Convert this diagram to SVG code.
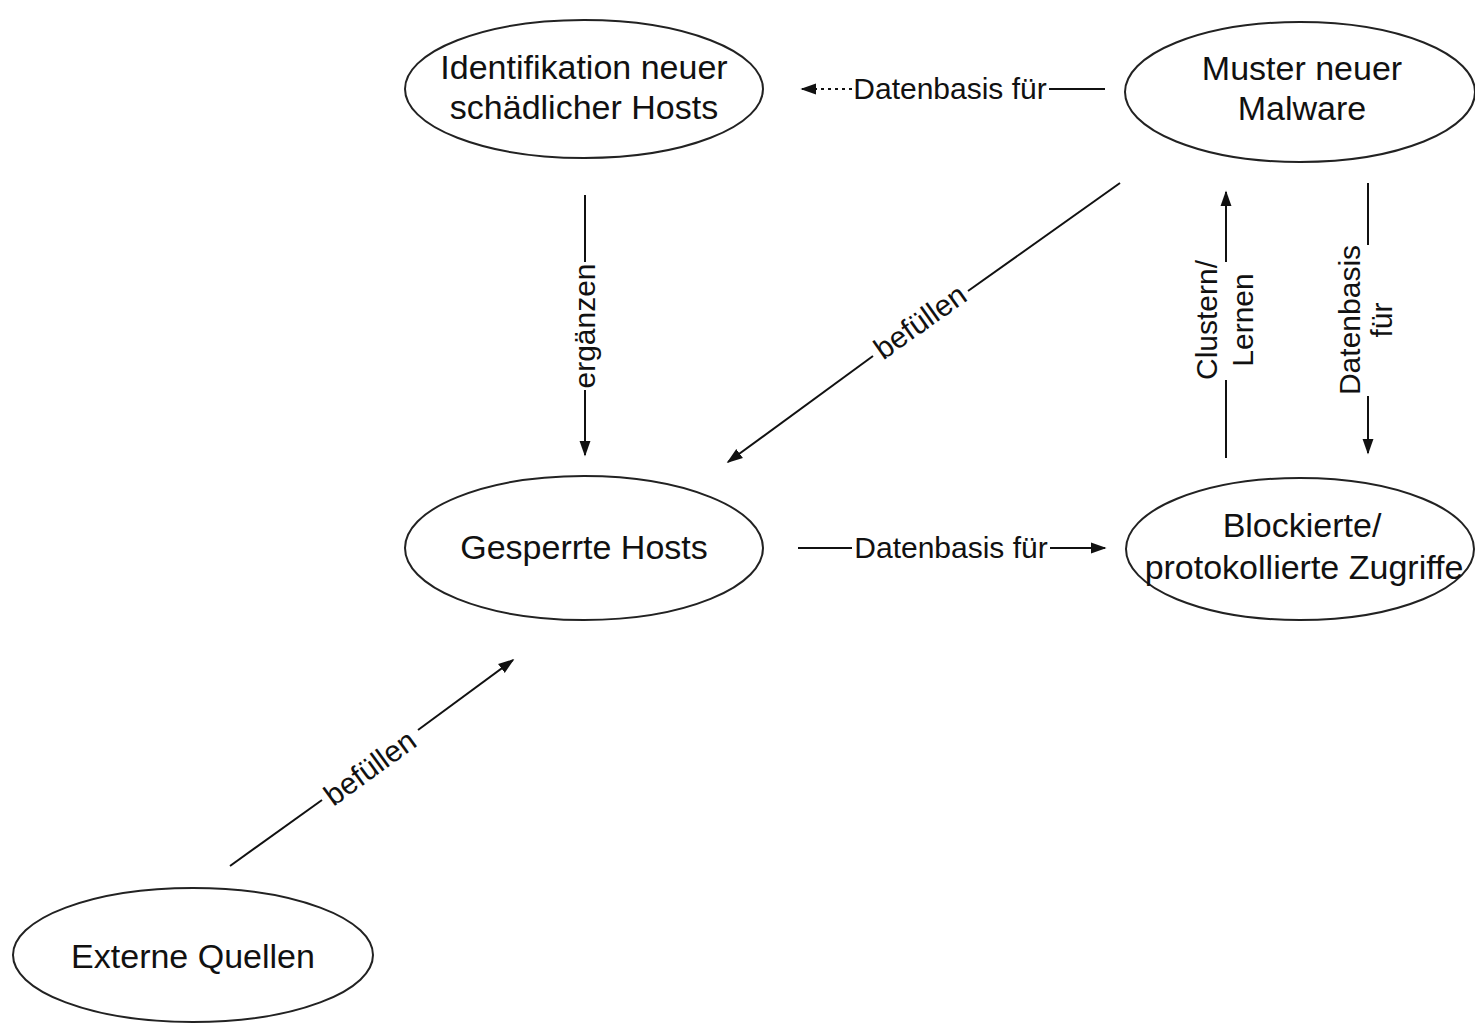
<svg xmlns="http://www.w3.org/2000/svg" width="1475" height="1023" viewBox="0 0 1475 1023">
<style>
.n{fill:#fff;stroke:#222;stroke-width:2}
.t{font-family:"Liberation Sans",Arial,sans-serif;font-size:34px;fill:#111;text-anchor:middle}
.l{font-family:"Liberation Sans",Arial,sans-serif;font-size:30px;fill:#111;text-anchor:middle}
.c{stroke:#111;stroke-width:2;fill:none}
</style>
<defs>
<marker id="ah" viewBox="0 0 10 10" refX="9" refY="5" markerWidth="16" markerHeight="16" markerUnits="userSpaceOnUse" orient="auto"><path d="M0,1.5 L10,5 L0,8.5 Z" fill="#111"/></marker>
</defs>
<rect width="1475" height="1023" fill="#fff"/>
<g id="connectors">
  <g id="e1">
    <line class="c" x1="1105" y1="89" x2="1049" y2="89"/>
    <line class="c" x1="852" y1="89" x2="802" y2="89" stroke-dasharray="3,4" marker-end="url(#ah)"/>
    <text class="l" x="950" y="99">Datenbasis für</text>
  </g>
  <g id="e2">
    <line class="c" x1="585" y1="195" x2="585" y2="262"/>
    <line class="c" x1="585" y1="390" x2="585" y2="455" marker-end="url(#ah)"/>
    <text class="l" transform="translate(595,326) rotate(-90)">ergänzen</text>
  </g>
  <g id="e3">
    <line class="c" x1="1120" y1="183" x2="968" y2="291"/>
    <line class="c" x1="873" y1="356" x2="728" y2="462" marker-end="url(#ah)"/>
    <text class="l" transform="translate(926,330) rotate(-35.4)">befüllen</text>
  </g>
  <g id="e4">
    <line class="c" x1="1226" y1="458" x2="1226" y2="380"/>
    <line class="c" x1="1226" y1="262" x2="1226" y2="192" marker-end="url(#ah)"/>
    <text class="l" transform="translate(1217,320) rotate(-90)">Clustern/</text>
    <text class="l" transform="translate(1253,320) rotate(-90)">Lernen</text>
  </g>
  <g id="e5">
    <line class="c" x1="1368" y1="183" x2="1368" y2="245"/>
    <line class="c" x1="1368" y1="396" x2="1368" y2="453" marker-end="url(#ah)"/>
    <text class="l" transform="translate(1360,320) rotate(-90)">Datenbasis</text>
    <text class="l" transform="translate(1392,320) rotate(-90)">für</text>
  </g>
  <g id="e6">
    <line class="c" x1="798" y1="548" x2="852" y2="548"/>
    <line class="c" x1="1050" y1="548" x2="1105" y2="548" marker-end="url(#ah)"/>
    <text class="l" x="951" y="558">Datenbasis für</text>
  </g>
  <g id="e7">
    <line class="c" x1="230" y1="866" x2="322" y2="800"/>
    <line class="c" x1="418" y1="730" x2="513" y2="660" marker-end="url(#ah)"/>
    <text class="l" transform="translate(376,776) rotate(-36)">befüllen</text>
  </g>
</g>
<g id="n-ident">
  <ellipse class="n" cx="584" cy="89" rx="179" ry="69"/>
  <text class="t" x="584" y="79">Identifikation neuer</text>
  <text class="t" x="584" y="119">schädlicher Hosts</text>
</g>
<g id="n-muster">
  <ellipse class="n" cx="1300" cy="92" rx="175" ry="70"/>
  <text class="t" x="1302" y="80">Muster neuer</text>
  <text class="t" x="1302" y="120">Malware</text>
</g>
<g id="n-gesperrt">
  <ellipse class="n" cx="584" cy="548" rx="179" ry="72"/>
  <text class="t" x="584" y="559">Gesperrte Hosts</text>
</g>
<g id="n-block">
  <ellipse class="n" cx="1300" cy="549" rx="174" ry="71"/>
  <text class="t" x="1302" y="537">Blockierte/</text>
  <text class="t" x="1304" y="579">protokollierte Zugriffe</text>
</g>
<g id="n-extern">
  <ellipse class="n" cx="193" cy="955" rx="180" ry="67"/>
  <text class="t" x="193" y="968">Externe Quellen</text>
</g>
</svg>
